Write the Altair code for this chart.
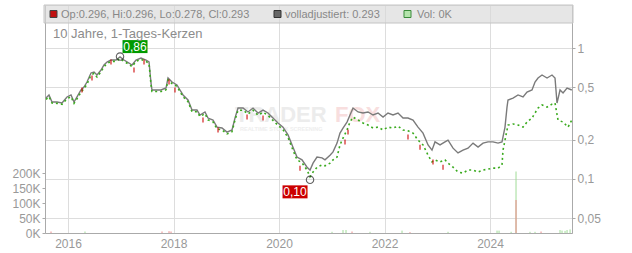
import altair as alt
import pandas as pd

# ---------------- data (decimal year, price) ----------------
adj_year = [2015.583, 2015.640, 2015.697, 2015.791, 2015.886, 2015.981, 2016.057, 2016.114, 2016.171, 2016.246,
            2016.303, 2016.360, 2016.436, 2016.493, 2016.550, 2016.626, 2016.682, 2016.739, 2016.815, 2016.910,
            2016.986, 2017.062, 2017.156, 2017.213, 2017.289, 2017.384, 2017.479, 2017.536, 2017.573, 2017.592,
            2017.668, 2017.763, 2017.858, 2017.896, 2017.972, 2018.066, 2018.123, 2018.180, 2018.275, 2018.351,
            2018.445, 2018.502, 2018.597, 2018.654, 2018.749, 2018.825, 2018.919, 2019.014, 2019.109, 2019.166,
            2019.223, 2019.318, 2019.412, 2019.507, 2019.602, 2019.697, 2019.791, 2019.886, 2019.981, 2020.076,
            2020.171, 2020.265, 2020.341, 2020.436, 2020.531, 2020.588, 2020.645, 2020.720, 2020.815, 2020.872,
            2020.967, 2021.024, 2021.100, 2021.156, 2021.213, 2021.289, 2021.346, 2021.403, 2021.498, 2021.592,
            2021.687, 2021.782, 2021.877, 2021.972, 2022.066, 2022.161, 2022.256, 2022.351, 2022.445, 2022.540,
            2022.635, 2022.730, 2022.825, 2022.900, 2022.957, 2023.052, 2023.147, 2023.204, 2023.299, 2023.393,
            2023.488, 2023.583, 2023.678, 2023.773, 2023.867, 2023.962, 2024.057, 2024.152, 2024.227, 2024.284,
            2024.322, 2024.341, 2024.436, 2024.531, 2024.626, 2024.701, 2024.796, 2024.853, 2024.910, 2024.986,
            2025.081, 2025.175, 2025.232, 2025.270, 2025.327, 2025.384, 2025.460, 2025.550]
adj_price = [0.415, 0.438, 0.387, 0.387, 0.380, 0.423, 0.438, 0.387, 0.423, 0.478,
             0.504, 0.550, 0.645, 0.656, 0.622, 0.679, 0.742, 0.782, 0.810, 0.810,
             0.854, 0.810, 0.768, 0.742, 0.810, 0.839, 0.810, 0.782, 0.541, 0.478,
             0.478, 0.478, 0.495, 0.590, 0.550, 0.522, 0.478, 0.438, 0.401, 0.336,
             0.336, 0.308, 0.325, 0.292, 0.282, 0.249, 0.245, 0.228, 0.237, 0.292,
             0.348, 0.348, 0.325, 0.348, 0.319, 0.336, 0.319, 0.292, 0.268, 0.249,
             0.217, 0.175, 0.147, 0.140, 0.123, 0.117, 0.132, 0.147, 0.145, 0.140,
             0.152, 0.161, 0.188, 0.224, 0.245, 0.272, 0.308, 0.348, 0.325, 0.319,
             0.325, 0.308, 0.319, 0.297, 0.319, 0.308, 0.319, 0.292, 0.292, 0.282,
             0.249, 0.224, 0.182, 0.166, 0.192, 0.182, 0.192, 0.198, 0.172, 0.158,
             0.166, 0.172, 0.188, 0.175, 0.188, 0.192, 0.192, 0.188, 0.192, 0.249,
             0.354, 0.401, 0.415, 0.438, 0.423, 0.461, 0.478, 0.550, 0.590, 0.622,
             0.590, 0.622, 0.590, 0.380, 0.478, 0.453, 0.495, 0.478]

# unadjusted daily candles (close)
cl_year = [2015.583, 2015.640, 2015.697, 2015.791, 2015.886, 2015.981, 2016.057, 2016.114, 2016.171, 2016.246,
           2016.303, 2016.360, 2016.436, 2016.493, 2016.550, 2016.626, 2016.682, 2016.739, 2016.815, 2016.910,
           2016.986, 2017.062, 2017.156, 2017.213, 2017.289, 2017.384, 2017.479, 2017.536, 2017.573, 2017.592,
           2017.668, 2017.763, 2017.858, 2017.896, 2017.972, 2018.066, 2018.123, 2018.180, 2018.275, 2018.351,
           2018.445, 2018.502, 2018.597, 2018.654, 2018.749, 2018.825, 2018.919, 2019.014, 2019.109, 2019.166,
           2019.223, 2019.318, 2019.412, 2019.507, 2019.602, 2019.697, 2019.791, 2019.886, 2019.981, 2020.076,
           2020.171, 2020.265, 2020.341, 2020.436, 2020.531, 2020.588, 2020.645, 2020.720, 2020.815, 2020.872,
           2020.967, 2021.024, 2021.100, 2021.156, 2021.213, 2021.289, 2021.346, 2021.403, 2021.498, 2021.592,
           2021.687, 2021.782, 2021.877, 2021.972, 2022.066, 2022.161, 2022.256, 2022.351, 2022.445, 2022.540,
           2022.635, 2022.730, 2022.825, 2022.900, 2022.957, 2023.052, 2023.147, 2023.204, 2023.299, 2023.393,
           2023.488, 2023.583, 2023.678, 2023.773, 2023.867, 2023.962, 2024.057, 2024.152, 2024.227, 2024.246,
           2024.341, 2024.436, 2024.531, 2024.626, 2024.701, 2024.796, 2024.853, 2024.910, 2024.986, 2025.081,
           2025.175, 2025.232, 2025.289, 2025.384, 2025.479, 2025.550]
cl_price = [0.405, 0.425, 0.380, 0.378, 0.372, 0.410, 0.425, 0.378, 0.410, 0.460,
            0.490, 0.530, 0.620, 0.640, 0.600, 0.660, 0.720, 0.760, 0.790, 0.790,
            0.830, 0.790, 0.750, 0.720, 0.790, 0.820, 0.790, 0.760, 0.530, 0.465,
            0.465, 0.465, 0.480, 0.570, 0.535, 0.510, 0.465, 0.425, 0.390, 0.326,
            0.326, 0.300, 0.315, 0.283, 0.273, 0.241, 0.237, 0.221, 0.230, 0.282,
            0.335, 0.335, 0.313, 0.335, 0.307, 0.323, 0.306, 0.280, 0.257, 0.238,
            0.207, 0.166, 0.140, 0.133, 0.117, 0.104, 0.113, 0.123, 0.128, 0.126,
            0.132, 0.140, 0.147, 0.182, 0.205, 0.237, 0.272, 0.297, 0.282, 0.268,
            0.258, 0.245, 0.249, 0.237, 0.249, 0.245, 0.253, 0.237, 0.233, 0.224,
            0.198, 0.182, 0.152, 0.135, 0.140, 0.135, 0.140, 0.132, 0.123, 0.113,
            0.111, 0.117, 0.117, 0.113, 0.117, 0.119, 0.121, 0.121, 0.128, 0.166,
            0.258, 0.263, 0.258, 0.249, 0.272, 0.292, 0.319, 0.348, 0.367, 0.354,
            0.373, 0.380, 0.282, 0.272, 0.249, 0.282]

# down candles (red)
dn_year = [2016.265, 2016.455, 2016.815, 2017.251, 2017.441, 2017.915, 2018.028, 2018.559, 2018.844, 2019.394,
           2019.697, 2020.398, 2021.251, 2021.308, 2022.445, 2022.673, 2022.919, 2023.109]
dn_price = [0.478, 0.590, 0.782, 0.679, 0.782, 0.550, 0.478, 0.282, 0.237, 0.297,
            0.292, 0.121, 0.192, 0.228, 0.209, 0.175, 0.135, 0.123]

# volume (thousands)
vol_year = [2015.678, 2016.322, 2017.782, 2017.915, 2017.953, 2021.005, 2021.213, 2021.270, 2021.384, 2021.725,
            2022.332, 2022.483, 2023.204, 2024.133, 2024.171, 2024.400, 2024.493, 2024.493, 2024.758, 2024.853,
            2024.967, 2025.327, 2025.365, 2025.422, 2025.460, 2025.517]
vol_k = [5, 5, 5, 6, 5, 4, 10, 10, 5, 4,
         8, 3, 4, 8, 8, 4, 205, 110, 4, 4,
         5, 10, 8, 7, 10, 12]
vol_dir = ["down", "up", "down", "down", "down", "up", "up", "up", "down", "up",
           "up", "down", "up", "up", "up", "up", "up", "down", "up", "up",
           "down", "up", "up", "up", "up", "up"]

# extremes
ext_year = [2016.986, 2020.588]
ext_price = [0.86, 0.0985]
ext_label = ["0,86", "0,10"]

year_ticks = [2016, 2018, 2020, 2022, 2024]
price_ticks = [0.05, 0.1, 0.2, 0.5, 1]
vol_ticks = [0, 50000, 100000, 150000, 200000]

legend_ohlc = "Op:0.296, Hi:0.296, Lo:0.278, Cl:0.293"
legend_adj = "volladjustiert: 0.293"
legend_vol = "Vol: 0K"
subtitle = "10 Jahre, 1-Tages-Kerzen"

# ---------------- frames ----------------
df_adj = pd.DataFrame({"yr": adj_year, "p": adj_price})
df_cl = pd.DataFrame({"yr": cl_year, "p": cl_price})
df_dn = pd.DataFrame({"yr": dn_year, "p": dn_price})
df_vol = pd.DataFrame({"yr": vol_year, "v": [k * 1000 for k in vol_k], "d": vol_dir, "z": 0})
df_ext = pd.DataFrame({"yr": ext_year, "p": ext_price, "lab": ext_label})
one = pd.DataFrame({"a": [0]})

FONT = "Liberation Sans"
LBL = "#999999"
XS = alt.Scale(domain=[2015.564, 2025.554], nice=False, zero=False)
YP = alt.Scale(type="log", domain=[0.0387, 2.13], nice=False)
YV = alt.Scale(domain=[0, 760000], nice=False, zero=True)

x_axis = alt.Axis(values=year_ticks, format="d", grid=True, gridColor="#dddddd", ticks=False,
                  labelColor=LBL, labelFontSize=12, labelFont=FONT, domainColor="#aaaaaa",
                  title=None, labelPadding=5)
y_axis = alt.Axis(orient="right", values=price_ticks,
                  labelExpr="replace(format(datum.value, '~g'), '.', ',')",
                  grid=True, gridColor="#dddddd", tickSize=3, tickColor="#aaaaaa",
                  domainColor="#aaaaaa", labelColor=LBL, labelFontSize=12, labelFont=FONT,
                  title=None, labelPadding=2)
v_axis = alt.Axis(orient="left", values=vol_ticks, labelExpr="datum.value / 1000 + 'K'",
                  grid=False, tickSize=3, tickColor="#aaaaaa", domainColor="#aaaaaa",
                  labelColor=LBL, labelFontSize=12, labelFont=FONT, title=None, labelPadding=2)


def X():
    return alt.X("yr:Q", scale=XS, axis=x_axis)


def YPR():
    return alt.Y("p:Q", scale=YP, axis=y_axis)


# ---------------- volume layer ----------------
vol = alt.Chart(df_vol).mark_rule(strokeWidth=1).encode(
    x=X(),
    y=alt.Y("v:Q", scale=YV, axis=v_axis),
    y2="z:Q",
    color=alt.Color("d:N", scale=alt.Scale(domain=["up", "down"], range=["#a0dc98", "#ee8a8a"]), legend=None),
)

# ---------------- price layer ----------------
wm1 = alt.Chart(one).mark_text(align="left", baseline="alphabetic", fontSize=22, fontWeight="bold",
                               font=FONT, color="#ececec").encode(
    x=alt.value(190), y=alt.value(117), text=alt.value("TRADER"))
wm2 = alt.Chart(one).mark_text(align="left", baseline="alphabetic", fontSize=22, fontWeight="bold",
                               font=FONT, color="#f8dede").encode(
    x=alt.value(290), y=alt.value(117), text=alt.value("FOX"))
wm3 = alt.Chart(one).mark_text(align="left", baseline="alphabetic", fontSize=5.5, fontWeight="bold",
                               font=FONT, color="#eeeeee").encode(
    x=alt.value(195), y=alt.value(126), text=alt.value("REALTIME STOCK SCREENING"))

line = alt.Chart(df_adj).mark_line(color="#7a7a7a", strokeWidth=1.4).encode(x=X(), y=YPR())
green = alt.Chart(df_cl).mark_line(color="#3aaa1e", strokeWidth=1.6, strokeDash=[2, 3]).encode(x=X(), y=YPR())
red = alt.Chart(df_dn).mark_tick(orient="vertical", color="#cc0000", thickness=1.5, size=5).encode(x=X(), y=YPR())

circ = alt.Chart(df_ext).mark_point(shape="circle", size=55, filled=False, stroke="#222222",
                                    strokeWidth=1.1).encode(x=X(), y=YPR())

box_path = "M-1,-0.52L1,-0.52L1,0.52L-1,0.52Z"
hi_df = df_ext.iloc[[0]]
lo_df = df_ext.iloc[[1]]
hi_box = alt.Chart(hi_df).mark_point(shape=box_path, size=625, filled=True, color="#009a00", opacity=1,
                                     xOffset=15, yOffset=-10).encode(x=X(), y=YPR())
hi_txt = alt.Chart(hi_df).mark_text(color="white", fontSize=12, font=FONT, dx=15, dy=-10,
                                    baseline="middle").encode(x=X(), y=YPR(), text="lab:N")
lo_box = alt.Chart(lo_df).mark_point(shape=box_path, size=625, filled=True, color="#cc0000", opacity=1,
                                     xOffset=-15, yOffset=12).encode(x=X(), y=YPR())
lo_txt = alt.Chart(lo_df).mark_text(color="white", fontSize=12, font=FONT, dx=-15, dy=12,
                                    baseline="middle").encode(x=X(), y=YPR(), text="lab:N")

# legend strip
strip = alt.Chart(one).mark_rect(fill="#d9d9d9", fillOpacity=0.65, stroke="#c4c4c4", strokeWidth=1).encode(
    x=alt.value(-1), x2=alt.value(528), y=alt.value(0), y2=alt.value(18))
sq1 = alt.Chart(one).mark_point(shape="square", size=49, filled=True, fill="#c01010", stroke="#444",
                                strokeWidth=1, opacity=1).encode(x=alt.value(8.5), y=alt.value(9))
sq2 = alt.Chart(one).mark_point(shape="square", size=49, filled=True, fill="#666666", stroke="#333",
                                strokeWidth=1, opacity=1).encode(x=alt.value(232.5), y=alt.value(9))
sq3 = alt.Chart(one).mark_point(shape="square", size=49, filled=True, fill="#b4e4ac", stroke="#3a8a3a",
                                strokeWidth=1, opacity=1).encode(x=alt.value(362.5), y=alt.value(9))
t1 = alt.Chart(one).mark_text(align="left", baseline="middle", fontSize=11, font=FONT, color="#888888").encode(
    x=alt.value(16), y=alt.value(9.5), text=alt.value(legend_ohlc))
t2 = alt.Chart(one).mark_text(align="left", baseline="middle", fontSize=11, font=FONT, color="#888888").encode(
    x=alt.value(240), y=alt.value(9.5), text=alt.value(legend_adj))
t3 = alt.Chart(one).mark_text(align="left", baseline="middle", fontSize=11, font=FONT, color="#888888").encode(
    x=alt.value(372), y=alt.value(9.5), text=alt.value(legend_vol))
sub = alt.Chart(one).mark_text(align="left", baseline="alphabetic", fontSize=13, font=FONT, color="#8c8c8c").encode(
    x=alt.value(8), y=alt.value(33), text=alt.value(subtitle))

price = alt.layer(wm1, wm2, wm3, line, green, red, circ, hi_box, hi_txt, lo_box, lo_txt,
                  strip, sq1, sq2, sq3, t1, t2, t3, sub)

chart = alt.layer(vol, price).resolve_scale(y="independent").properties(
    width=527, height=228,
    padding={"left": 45, "top": 5, "right": 60, "bottom": 20},
    autosize=alt.AutoSizeParams(type="none"),
    background="white",
).configure_view(stroke=None).configure(font=FONT)

chart.save("out.html", embed_options={"renderer": "svg", "actions": False})
